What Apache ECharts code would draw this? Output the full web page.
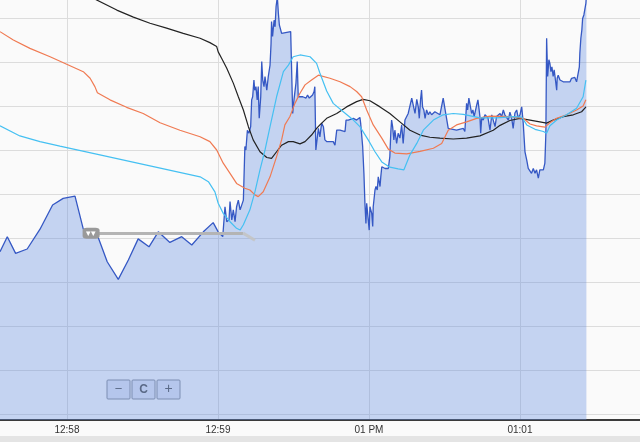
<!DOCTYPE html>
<html><head><meta charset="utf-8">
<script src="https://cdn.jsdelivr.net/npm/echarts@6/dist/echarts.min.js"></script>
<style>html,body{margin:0;padding:0;background:#fafafa}#c{width:640px;height:442px}</style>
</head><body><div id="c"></div>
<script>
// x: seconds after 12:57:00 ; y: price
var tickValues = [60, 120, 180, 240];
var tickLabels = ['12:58', '12:59', '01 PM', '01:01'];
var priceTicks = [40, 41, 42, 43, 44, 45, 46, 47, 48, 49];

var price = [
[33.4,43.69],[36.3,44.03],[39.6,43.65],[44.2,43.75],[49.3,44.20],[54.3,44.75],[58.5,44.90],[63.2,44.95],
[66.5,44.20],[71.8,44.11],[76.0,43.46],[80.4,43.06],[84.4,43.50],[88.3,43.98],[92.6,43.80],[96.3,44.14],
[100.9,43.90],[105.6,44.03],[109.6,43.84],[114.2,44.14],[118.1,44.35],[120.1,44.14],[121.9,44.03],
[122.8,44.71],[123.5,44.37],[124.4,44.41],[124.8,44.83],[125.5,44.41],[126.1,44.64],[126.8,44.37],[127.4,44.71],
[128.1,44.86],[128.8,44.64],[129.4,44.64],[130.1,44.86],[130.7,46.08],[131.1,46.00],[131.7,46.45],[132.3,46.38],
[133.0,46.53],[133.4,47.14],[133.8,47.21],[134.3,47.59],[134.6,47.36],[135.1,47.44],[135.6,47.14],[136.0,47.44],
[136.4,46.72],[137.0,47.21],[137.4,48.01],[137.8,47.59],[138.3,47.44],[138.7,47.67],[139.4,47.36],[140.0,47.67],
[140.7,47.93],[141.1,48.42],[141.3,48.92],[141.7,48.58],[142.3,48.95],[142.7,48.80],[143.1,49.26],[143.6,49.48],
[144.0,49.11],[144.4,48.84],[144.8,48.88],[145.3,48.65],[146.0,48.69],[148.9,48.69],[149.3,48.65],[149.7,46.83],
[150.2,47.14],[151.0,47.52],[151.5,48.01],[151.9,47.21],[152.6,47.25],[153.7,47.21],[154.2,47.25],[155.0,47.18],
[155.6,47.25],[156.3,47.18],[157.6,47.25],[158.2,47.33],[158.5,47.44],[158.9,46.00],[159.9,46.49],[160.5,46.30],
[161.2,46.61],[161.9,46.53],[162.5,46.23],[163.3,46.19],[165.8,46.19],[166.5,46.11],[167.2,46.45],[168.5,46.45],
[169.2,46.42],[170.5,46.42],[170.9,46.68],[171.8,46.68],[172.5,46.64],[173.8,46.72],[175.1,46.68],[175.8,46.72],
[176.4,46.74],[176.7,46.61],[177.5,46.08],[178.0,45.47],[178.4,44.79],[178.8,44.33],[179.1,44.79],[179.7,44.79],
[180.1,44.18],[180.4,44.71],[181.1,44.56],[181.5,44.26],[181.7,44.71],[182.4,45.09],[182.8,45.17],[183.3,45.09],
[183.7,45.39],[184.4,45.17],[184.7,45.39],[185.1,45.62],[185.7,45.66],[186.4,45.58],[187.0,45.62],[187.7,45.58],
[188.3,45.85],[188.7,46.42],[189.0,46.68],[189.4,46.53],[189.9,46.23],[190.3,46.45],[191.0,46.15],[191.6,46.38],
[192.3,46.27],[193.0,46.57],[193.6,46.15],[194.3,46.68],[195.0,46.72],[195.6,46.83],[196.3,46.80],[197.0,47.18],
[197.6,47.18],[198.3,46.83],[199.0,47.15],[199.6,46.98],[200.0,46.72],[200.5,47.14],[200.9,47.36],[201.3,46.98],
[201.8,46.91],[202.3,46.72],[202.9,46.91],[203.6,46.80],[204.2,46.87],[204.9,46.80],[206.2,46.87],[206.9,46.83],
[208.2,46.80],[208.9,46.83],[209.5,47.18],[209.8,47.21],[210.6,46.80],[211.1,46.83],[211.5,46.49],[212.2,46.45],
[214.8,46.45],[217.5,46.49],[218.1,46.42],[218.8,47.06],[219.2,46.91],[219.7,47.18],[220.1,47.14],[220.8,46.83],
[221.3,46.91],[221.8,46.76],[222.8,47.02],[223.3,47.14],[223.7,46.95],[224.1,46.76],[224.4,46.38],[224.8,46.73],
[225.4,46.68],[226.1,46.80],[227.3,46.73],[228.1,46.45],[228.8,46.80],[230.1,46.53],[230.7,46.76],[232.1,46.83],
[232.7,46.76],[233.4,46.91],[234.0,46.80],[235.4,46.68],[236.0,46.86],[236.7,46.73],[237.3,46.49],[238.0,46.84],
[238.7,46.91],[239.3,46.73],[240.0,46.80],[240.7,46.98],[241.3,46.61],[242.0,45.96],[242.7,45.77],[243.3,45.58],
[244.0,45.55],[244.6,45.47],[245.3,45.58],[246.0,45.47],[246.6,45.55],[247.3,45.36],[247.9,45.55],[248.6,45.58],
[249.3,45.55],[249.9,45.70],[250.3,46.38],[250.6,48.54],[251.0,47.67],[251.5,48.05],[251.9,47.97],[252.3,47.78],
[252.7,47.89],[253.2,47.67],[253.6,47.82],[254.2,47.55],[254.6,47.36],[254.8,47.63],[255.2,47.70],[255.9,47.59],
[257.2,47.55],[259.9,47.55],[260.5,47.63],[261.8,47.65],[262.5,47.55],[263.0,47.59],[263.6,47.89],[263.8,48.20],
[264.2,48.54],[264.6,48.73],[264.9,48.99],[265.4,49.07],[265.8,49.11],[266.2,49.33],[266.4,49.52]
];

var maBlack = [
[67.2,49.55],[71.8,49.41],[79.8,49.18],[86.4,49.02],[93.0,48.88],[99.6,48.77],[106.2,48.65],[112.9,48.54],
[116.8,48.44],[119.5,48.35],[120.1,48.23],[121.5,48.08],[123.5,47.86],[126.1,47.52],[128.1,47.21],[130.1,46.91],
[132.1,46.53],[134.0,46.23],[136.7,45.96],[139.4,45.83],[141.3,45.81],[143.3,45.96],[145.3,46.11],[148.0,46.19],
[149.9,46.19],[152.6,46.14],[154.6,46.19],[157.2,46.34],[159.2,46.49],[160.5,46.57],[163.2,46.72],[167.2,46.83],
[171.1,46.98],[175.1,47.10],[177.7,47.15],[180.4,47.12],[184.4,46.98],[188.3,46.83],[192.3,46.64],[196.3,46.45],
[200.3,46.34],[204.2,46.29],[208.2,46.27],[213.5,46.25],[218.8,46.27],[224.1,46.32],[229.4,46.45],[232.1,46.56],
[236.0,46.67],[240.0,46.72],[244.0,46.68],[247.9,46.64],[250.6,46.61],[253.2,46.68],[257.2,46.76],[261.2,46.80],
[264.5,46.87],[265.8,46.95],[266.2,46.98]
];

var maOrange = [
[33.4,48.69],[38.7,48.50],[45.3,48.31],[53.3,48.12],[59.9,47.95],[66.5,47.78],[69.2,47.63],[71.1,47.44],
[72.1,47.30],[77.1,47.14],[83.7,46.97],[90.3,46.83],[97.0,46.62],[104.9,46.45],[112.9,46.30],[116.8,46.19],
[119.5,46.00],[122.1,45.70],[124.8,45.47],[127.4,45.24],[130.7,45.13],[132.7,45.09],[134.7,44.98],[136.0,44.94],
[138.0,45.05],[140.7,45.39],[143.3,45.85],[145.3,46.23],[146.6,46.57],[148.6,46.76],[150.6,47.06],[152.6,47.29],
[154.6,47.48],[157.2,47.59],[159.9,47.70],[160.5,47.73],[164.5,47.63],[168.5,47.55],[172.5,47.44],[175.1,47.33],
[177.1,47.21],[179.1,46.91],[181.7,46.57],[185.1,46.27],[187.7,46.02],[190.3,45.93],[195.0,45.91],[200.3,45.97],
[205.6,46.04],[208.9,46.15],[211.5,46.45],[214.8,46.57],[218.8,46.64],[222.8,46.72],[228.1,46.77],[236.0,46.76],
[241.3,46.72],[244.0,46.59],[246.6,46.55],[249.9,46.52],[251.9,46.62],[254.6,46.72],[258.5,46.80],[262.5,46.91],
[265.1,47.00],[266.2,47.14]
];

var maCyan = [
[33.4,46.55],[41.3,46.32],[49.3,46.19],[57.2,46.09],[73.1,45.89],[93.0,45.64],[112.9,45.39],[116.2,45.28],
[118.8,45.05],[120.1,44.79],[122.1,44.56],[124.8,44.37],[127.4,44.22],[128.8,44.18],[130.1,44.30],[132.7,44.64],
[134.7,45.05],[136.7,45.55],[138.7,46.00],[140.7,46.53],[143.3,47.21],[146.0,47.78],[148.0,47.93],[149.9,48.12],
[152.6,48.16],[156.6,48.12],[159.2,47.97],[160.5,47.75],[163.2,47.34],[165.8,47.06],[169.8,46.87],[173.8,46.68],
[176.4,46.53],[179.7,46.23],[182.4,45.96],[185.1,45.73],[188.3,45.61],[191.6,45.57],[193.9,45.55],[196.3,45.89],
[199.0,46.15],[201.6,46.45],[205.6,46.68],[209.5,46.80],[213.5,46.83],[217.5,46.81],[224.1,46.73],[230.7,46.73],
[237.3,46.76],[240.7,46.75],[242.7,46.57],[246.0,46.47],[249.3,46.42],[250.6,46.38],[251.9,46.55],[254.6,46.68],
[258.5,46.80],[262.5,46.95],[265.1,47.21],[266.2,47.59]
];

// drawn horizontal level (annotation) and its end tail
var levelPrice = 44.11;
var levelStart = 68.4, levelEnd = 130.0;
var tailEnd = [134.7, 43.95];

var xMin = 33.4, xMax = 287.7;
var yMin = 40 - 6 / 44, yMax = 40 + 414 / 44;

var chart = echarts.init(document.getElementById('c'), null, {renderer: 'canvas'});
var fontFam = '"Liberation Sans", Arial, sans-serif';
var btnText = function (x, t, size, weight) {
  return {type: 'text', x: x, y: 9.5, style: {text: t, fill: '#555', fontSize: size, fontWeight: weight || 'normal',
    fontFamily: fontFam, align: 'center', verticalAlign: 'middle'}};
};
chart.setOption({
  animation: false,
  backgroundColor: '#fafafa',
  grid: {left: 0, right: 0, top: 0, bottom: 22, containLabel: false},
  xAxis: {
    type: 'value', min: xMin, max: xMax,
    axisLine: {show: true, onZero: false, lineStyle: {color: '#3a3a3a', width: 2}},
    axisTick: {show: false, customValues: tickValues},
    axisLabel: {customValues: tickValues, color: '#333', fontSize: 10, fontFamily: fontFam, margin: 5,
      formatter: function (v) { var i = tickValues.indexOf(v); return i >= 0 ? tickLabels[i] : ''; }},
    splitLine: {show: true, lineStyle: {color: '#dcdcdc', width: 1}}
  },
  yAxis: {
    type: 'value', min: yMin, max: yMax,
    axisLine: {show: false}, axisLabel: {show: false},
    axisTick: {show: false, customValues: priceTicks},
    splitLine: {show: true, lineStyle: {color: '#dcdcdc', width: 1}}
  },
  graphic: [
    {type: 'rect', left: 0, top: 436, shape: {width: 640, height: 6}, style: {fill: '#e4e4e4'}, z: 100},
    {type: 'group', x: 107, y: 380, z: 100, children: [
      {type: 'rect', x: 0, y: 0, shape: {width: 23, height: 19, r: 1}, style: {fill: '#e3e7f2', stroke: '#8a8f9a', lineWidth: 1}},
      {type: 'rect', x: 25, y: 0, shape: {width: 23, height: 19, r: 1}, style: {fill: '#e3e7f2', stroke: '#8a8f9a', lineWidth: 1}},
      {type: 'rect', x: 50, y: 0, shape: {width: 23, height: 19, r: 1}, style: {fill: '#e3e7f2', stroke: '#8a8f9a', lineWidth: 1}},
      btnText(11.5, '\u2212', 13),
      btnText(36.5, 'C', 12, 'bold'),
      btnText(61.5, '+', 14)
    ]}
  ],
  series: [
    {type: 'line', data: price, showSymbol: false, symbol: 'none',
      lineStyle: {color: '#3558c4', width: 1.3},
      areaStyle: {color: 'rgba(100,140,225,0.36)', opacity: 1, origin: 'start'},
      markLine: {silent: true, symbol: 'none', label: {show: false},
        lineStyle: {color: '#b4b4b4', width: 3, type: 'solid', opacity: 1},
        data: [
          [{coord: [levelStart, levelPrice]}, {coord: [levelEnd, levelPrice]}],
          [{coord: [levelEnd, levelPrice], lineStyle: {color: '#c4c4c4', width: 3, opacity: 0.9}},
           {coord: tailEnd}]
        ]},
      markPoint: {silent: true, symbol: 'roundRect', symbolSize: [17, 11],
        itemStyle: {color: '#9a9a9a'},
        label: {show: true, formatter: '\u25BE\u25BE', color: '#fff', fontSize: 9},
        data: [{coord: [levelStart + 1.2, levelPrice]}]},
      z: 2},
    {type: 'line', data: maBlack, showSymbol: false, symbol: 'none', lineStyle: {color: '#222', width: 1.2}, z: 3},
    {type: 'line', data: maOrange, showSymbol: false, symbol: 'none', lineStyle: {color: '#f07a52', width: 1.2}, z: 4},
    {type: 'line', data: maCyan, showSymbol: false, symbol: 'none', lineStyle: {color: '#45c0f2', width: 1.2}, z: 5}
  ]
});
</script></body></html>
